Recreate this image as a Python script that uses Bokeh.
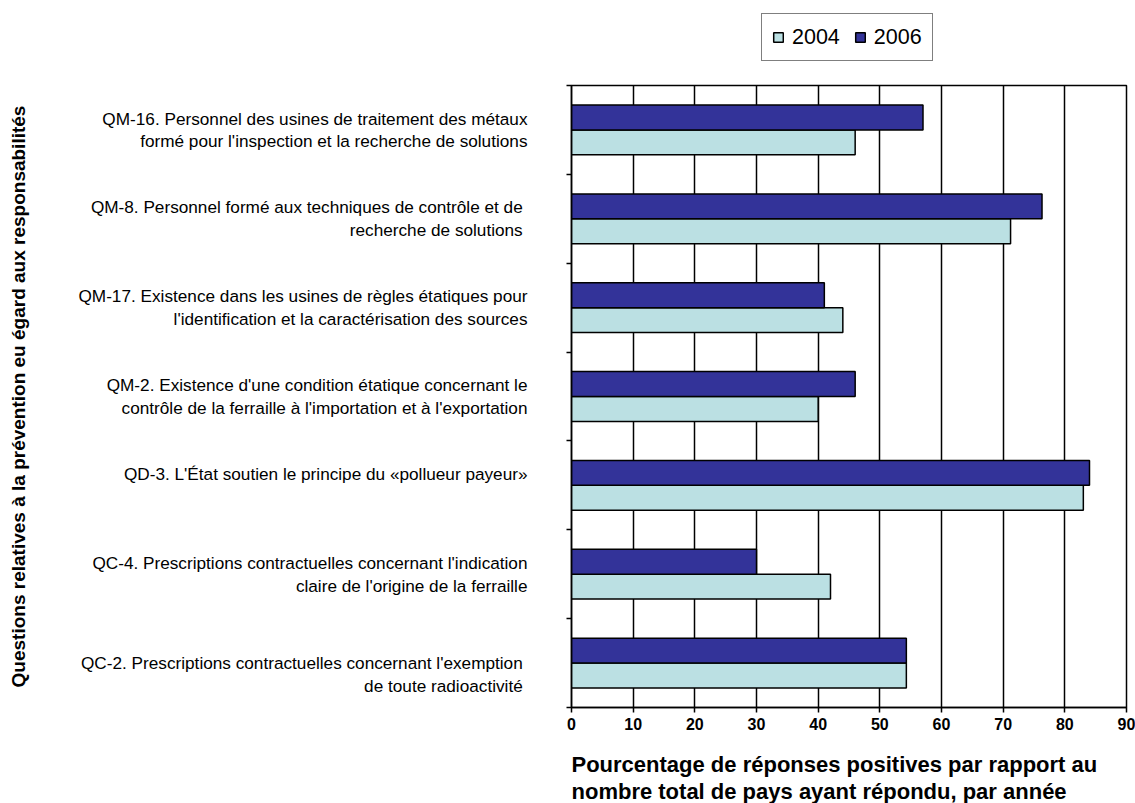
from bokeh.plotting import figure
from bokeh.models import Range1d, FixedTicker, Legend, LegendItem, ColumnDataSource
from bokeh.layouts import column
from bokeh.core.properties import value
from bokeh.embed import file_html
from bokeh.resources import INLINE
import numpy as np

# ---- data (top to bottom as displayed) ----
questions = [
    "QM-16. Personnel des usines de traitement des métaux\nformé pour l'inspection et la recherche de solutions",
    "QM-8. Personnel formé aux techniques de contrôle et de \nrecherche de solutions ",
    "QM-17. Existence dans les usines de règles étatiques pour\nl'identification et la caractérisation des sources",
    "QM-2. Existence d'une condition étatique concernant le\ncontrôle de la ferraille à l'importation et à l'exportation",
    "QD-3. L'État soutien le principe du «pollueur payeur»\n ",
    "QC-4. Prescriptions contractuelles concernant l'indication\nclaire de l'origine de la ferraille",
    " \nQC-2. Prescriptions contractuelles concernant l'exemption \nde toute radioactivité ",
]
values_2004 = [46, 71.2, 44, 40, 83, 42, 54.3]
values_2006 = [57, 76.3, 41, 46, 84, 30, 54.3]
series_names = ["2004", "2006"]
x_ticks = [0, 10, 20, 30, 40, 50, 60, 70, 80, 90]
y_title = "Questions relatives à la prévention eu égard aux responsabilités"
x_title = ["Pourcentage de réponses positives par rapport au",
           "nombre total de pays ayant répondu, par année"]

color_2004 = "#BBE0E3"
color_2006 = "#333399"
FONT = "Liberation Sans"
W = 1135

n = len(questions)
centers = n - np.arange(n) - 0.5
bar_h = 0.28

# ---------------- legend strip (top) ----------------
top = figure(width=W, height=83, x_range=Range1d(0, 90), y_range=Range1d(0, 1),
             output_backend="svg", toolbar_location=None,
             x_axis_type=None, y_axis_type=None,
             min_border_left=571, min_border_right=9, min_border_top=0, min_border_bottom=0)
top.outline_line_color = None
top.grid.grid_line_color = None
# swatch-only renderers (a NaN row: nothing drawn, but the legend gets its style)
leg04 = ColumnDataSource(dict(y=[np.nan], v=[np.nan]))
leg06 = ColumnDataSource(dict(y=[np.nan], v=[np.nan]))
l04 = top.hbar(y="y", left=0, right="v", height=0.5, source=leg04,
               fill_color=color_2004, line_color="black", line_width=1.5)
l06 = top.hbar(y="y", left=0, right="v", height=0.5, source=leg06,
               fill_color=color_2006, line_color="black", line_width=1.5)
legend = Legend(items=[LegendItem(label=series_names[0], renderers=[l04]),
                       LegendItem(label=series_names[1], renderers=[l06])],
                orientation="horizontal", location=(190, 22))
legend.border_line_color = "black"
legend.border_line_width = 1.5
legend.background_fill_color = "white"
legend.background_fill_alpha = 1
legend.label_text_font = FONT
legend.label_text_font_size = "21.5px"
legend.label_text_color = "black"
legend.glyph_width = 12
legend.glyph_height = 12
legend.label_standoff = 8
legend.spacing = 14
legend.padding = 10
legend.margin = 0
legend.label_height = 26
top.add_layout(legend)

# ---------------- main chart ----------------
src04 = ColumnDataSource(dict(y=centers - bar_h / 2, v=values_2004))
src06 = ColumnDataSource(dict(y=centers + bar_h / 2, v=values_2006))

p = figure(width=W, height=654, x_range=Range1d(0, 90), y_range=Range1d(0, n),
           output_backend="svg", toolbar_location=None,
           min_border_left=571, min_border_right=9, min_border_top=2, min_border_bottom=30)
p.outline_line_color = "black"
p.outline_line_width = 1.5

p.hbar(y="y", left=0, right="v", height=bar_h, source=src04,
       fill_color=color_2004, line_color="black", line_width=1.5)
p.hbar(y="y", left=0, right="v", height=bar_h, source=src06,
       fill_color=color_2006, line_color="black", line_width=1.5)

xa = p.xaxis[0]
xa.ticker = FixedTicker(ticks=x_ticks)
xa.minor_tick_line_color = None
xa.major_tick_out = 5
xa.major_tick_in = 0
xa.axis_line_color = "black"
xa.axis_line_width = 1.5
xa.major_tick_line_color = "black"
xa.major_tick_line_width = 1.5
xa.major_label_text_font = FONT
xa.major_label_text_font_size = "16px"
xa.major_label_text_font_style = "bold"
xa.major_label_text_color = "black"
xa.major_label_standoff = 5

ya = p.yaxis[0]
ya.ticker = FixedTicker(ticks=[float(c) for c in centers], minor_ticks=list(range(n + 1)))
ya.major_label_overrides = {float(c): q for c, q in zip(centers, questions)}
ya.major_tick_out = 0
ya.major_tick_in = 0
ya.major_tick_line_color = None
ya.minor_tick_out = 5
ya.minor_tick_in = 0
ya.minor_tick_line_color = "black"
ya.minor_tick_line_width = 1.5
ya.axis_line_color = "black"
ya.axis_line_width = 1.5
ya.major_label_text_font = FONT
ya.major_label_text_font_size = "17.2px"
ya.major_label_text_color = "black"
ya.major_label_text_line_height = 1.13
ya.major_label_standoff = 39
ya.axis_label = y_title
ya.axis_label_text_font = FONT
ya.axis_label_text_font_size = "19px"
ya.axis_label_text_font_style = "bold"
ya.axis_label_text_color = "black"
ya.axis_label_standoff = 46

p.xgrid.ticker = FixedTicker(ticks=x_ticks)
p.xgrid.grid_line_color = "black"
p.xgrid.grid_line_width = 1.5
p.ygrid.grid_line_color = None

# ---------------- x-axis title strip (bottom) ----------------
BH = 66
bot = figure(width=W, height=BH, x_range=Range1d(0, 555), y_range=Range1d(BH, 0),
             output_backend="svg", toolbar_location=None,
             x_axis_type=None, y_axis_type=None,
             min_border_left=571, min_border_right=9, min_border_top=0, min_border_bottom=0)
bot.outline_line_color = None
bot.grid.grid_line_color = None
bot.text(x=[0, 0], y=[27, 54], text=x_title,
         text_font=value(FONT), text_font_size="22px", text_font_style="bold",
         text_color="black", text_baseline="alphabetic", text_align="left")

layout = column(top, p, bot, spacing=0)
open("out.html", "w").write(file_html(layout, INLINE))
